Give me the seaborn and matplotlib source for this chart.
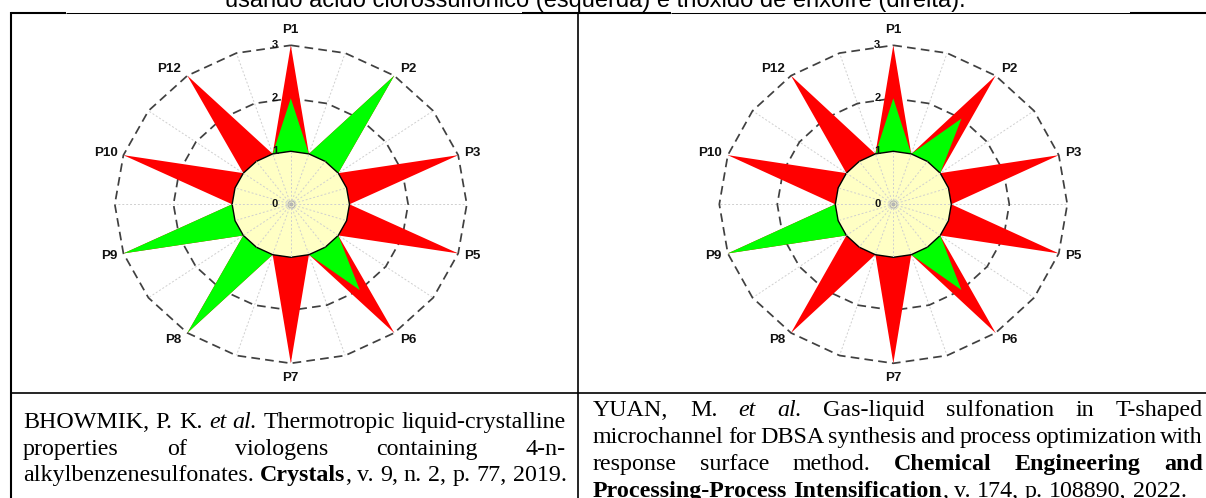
import numpy as np
import matplotlib
matplotlib.use("Agg")
import matplotlib.pyplot as plt
import seaborn as sns

# ---------------- data ----------------
principles = ["P1", "P2", "P3", "P5", "P6", "P7", "P8", "P9", "P10", "P12"]
max_scores = [3, 3, 3, 3, 3, 3, 3, 3, 3, 3]
left_scores = [2, 3, 1, 1, 2, 1, 3, 3, 1, 1]    # ácido clorossulfônico
right_scores = [2, 2, 1, 1, 2, 1, 1, 3, 1, 1]   # trióxido de enxofre
ring_levels = [1, 2, 3]
radial_labels = ["0", "1", "2", "3"]

title_text = "usando ácido clorossulfônico (esquerda) e trióxido de enxofre (direita)."
left_cite = [
    [("BHOWMIK, P. K. ", "n"), ("et al.", "i"), (" Thermotropic liquid-crystalline", "n")],
    [("properties of viologens containing 4-n-", "n")],
    [("alkylbenzenesulfonates. ", "n"), ("Crystals", "b"), (", v. 9, n. 2, p. 77, 2019.", "n")],
]
left_justify = [True, True, False]
right_cite = [
    [("YUAN, M. ", "n"), ("et al.", "i"), (" Gas-liquid sulfonation in T-shaped", "n")],
    [("microchannel for DBSA synthesis and process optimization with", "n")],
    [("response surface method. ", "n"), ("Chemical Engineering and", "b")],
    [("Processing-Process Intensification", "b"), (", v. 174, p. 108890, 2022.", "n")],
]
right_justify = [True, True, True, False]

# ---------------- style ----------------
sns.set_theme(style="white")
plt.rcParams['font.family'] = ['Liberation Sans', 'DejaVu Sans']

W, H = 1206, 498
fig = plt.figure(figsize=(W / 100, H / 100), dpi=100)
bg = fig.add_axes([0, 0, 1, 1])
bg.set_xlim(0, W)
bg.set_ylim(H, 0)
bg.axis('off')

RED = '#ff0000'
GREEN = '#00ff00'
YELLOW = '#ffffc4'
PX = 72 / 100.0  # points per pixel


def star(ax, values, color, z):
    n = len(values)
    ang = np.deg2rad(np.arange(n) * 360.0 / n)
    half = np.pi / n
    th, r = [], []
    for a, v in zip(ang, values):
        th += [a - half, a]
        r += [ring_levels[0], v]
    th.append(th[0])
    r.append(r[0])
    ax.fill(th, r, color=color, lw=0, zorder=z)


def radar(rect, scores):
    ax = fig.add_axes(rect, projection='polar')
    ax.set_aspect('auto')
    ax.set_theta_zero_location('N')
    ax.set_theta_direction(-1)
    ax.set_ylim(0, ring_levels[-1])
    ax.grid(False)
    ax.set_xticks([])
    ax.set_yticks([])
    ax.spines['polar'].set_visible(False)
    ax.patch.set_alpha(0)
    n = len(principles)
    ang = np.deg2rad(np.arange(n) * 360.0 / n)
    t20 = np.linspace(0, 2 * np.pi, 2 * n + 1)
    for t in t20[:-1]:
        ax.plot([t, t], [0, ring_levels[-1]], color='#cfcfcf', lw=0.7,
                ls=(0, (2, 2)), zorder=1)
    for lev in ring_levels[1:]:
        ax.plot(t20, [lev] * len(t20), color='#404040', lw=1.25,
                ls=(0, (5, 3)), zorder=1.5, clip_on=False)
    star(ax, max_scores, RED, 2)
    star(ax, scores, GREEN, 3)
    ax.fill(t20, [ring_levels[0]] * len(t20), facecolor=YELLOW,
            edgecolor='black', lw=1.0, zorder=4)
    for t in t20[:-1]:
        ax.plot([t, t], [0, ring_levels[0]], color='#cfcfcf', lw=0.7,
                ls=(0, (2, 2)), zorder=4.5)
    ax.plot([0], [0], 'o', ms=5, mfc='none', mec='#b4b4b4', mew=0.8, zorder=6)
    ax.plot([0], [0], 'o', ms=1.8, color='#b4b4b4', zorder=6)
    for a, lab in zip(ang, principles):
        s, c = np.sin(a), np.cos(a)
        if abs(s) < 0.1:
            ha, dx, dy = 'center', 0.0, 15.0 * c
        else:
            ha = 'left' if s > 0 else 'right'
            dx, dy = 6.0 * np.sign(s), 8.6 * c
        ax.annotate(lab, xy=(a, ring_levels[-1]), xytext=(dx * PX, dy * PX),
                    textcoords='offset points', ha=ha, va='center',
                    fontsize=9.6, fontweight='bold', color='#111111',
                    annotation_clip=False)
    for lev, lab in zip([0] + ring_levels, radial_labels):
        ax.annotate(lab, xy=(0, lev), xytext=(-11.5, 0), textcoords='offset points',
                    ha='center', va='center', fontsize=8, fontweight='bold',
                    color='#111111', annotation_clip=False, zorder=7)
    return ax


def px_rect(cx, cy, rx, ry):
    return [(cx - rx) / W, (H - (cy + ry)) / H, 2 * rx / W, 2 * ry / H]


radar(px_rect(290.8, 204.3, 176, 159), left_scores)
radar(px_rect(893.3, 204.3, 174, 159), right_scores)

# ---------------- table lines ----------------
thin, thick = 0.75, 1.5
bg.plot([11, 66], [13, 13], color='black', lw=thick, solid_capstyle='butt')
bg.plot([66, 522], [13, 13], color='black', lw=thin, solid_capstyle='butt')
bg.plot([522, 671], [13, 13], color='black', lw=thick, solid_capstyle='butt')
bg.plot([671, 1130], [13, 13], color='black', lw=thin, solid_capstyle='butt')
bg.plot([1130, W], [13, 13], color='black', lw=thick, solid_capstyle='butt')
bg.plot([11, 11], [12.3, H], color='black', lw=thick, solid_capstyle='butt')
bg.plot([577.5, 577.5], [13, H], color='black', lw=1.2, solid_capstyle='butt')
bg.plot([11, W], [393, 393], color='black', lw=1.2, solid_capstyle='butt')

# ---------------- texts ----------------
bg.text(595, 6.8, title_text, ha='center', va='baseline', fontsize=17,
        family=['Liberation Sans'], color='black')

renderer = fig.canvas.get_renderer()
CITE_SIZE = 17.3


def split_words(chunks):
    words = [[]]
    for txt, st in chunks:
        pieces = txt.split(' ')
        for k, p in enumerate(pieces):
            if k > 0:
                words.append([])
            if p:
                words[-1].append((p, st))
    return [w for w in words if w]


def put_line(chunks, x0, x1, y, justify):
    words = split_words(chunks)
    placed = []
    total = 0.0
    for w in words:
        segs = []
        for txt, st in w:
            t = bg.text(0, y, txt, fontsize=CITE_SIZE, family=['Liberation Serif'],
                        style='italic' if st == 'i' else 'normal',
                        weight='bold' if st == 'b' else 'normal',
                        ha='left', va='baseline', color='black')
            wd = t.get_window_extent(renderer).width
            segs.append((t, wd))
            total += wd
        placed.append(segs)
    space = 0.25 * CITE_SIZE * 100 / 72
    if justify and len(placed) > 1:
        gap = max((x1 - x0 - total) / (len(placed) - 1), space * 0.6)
    else:
        gap = space
    x = x0
    for segs in placed:
        for t, wd in segs:
            t.set_x(x)
            x += wd
        x += gap


for i, (ch, j) in enumerate(zip(left_cite, left_justify)):
    put_line(ch, 23, 566, 428 + i * 26.5, j)
for i, (ch, j) in enumerate(zip(right_cite, right_justify)):
    put_line(ch, 593, 1203, 416 + i * 27, j)

fig.savefig('out.png', dpi=100)
